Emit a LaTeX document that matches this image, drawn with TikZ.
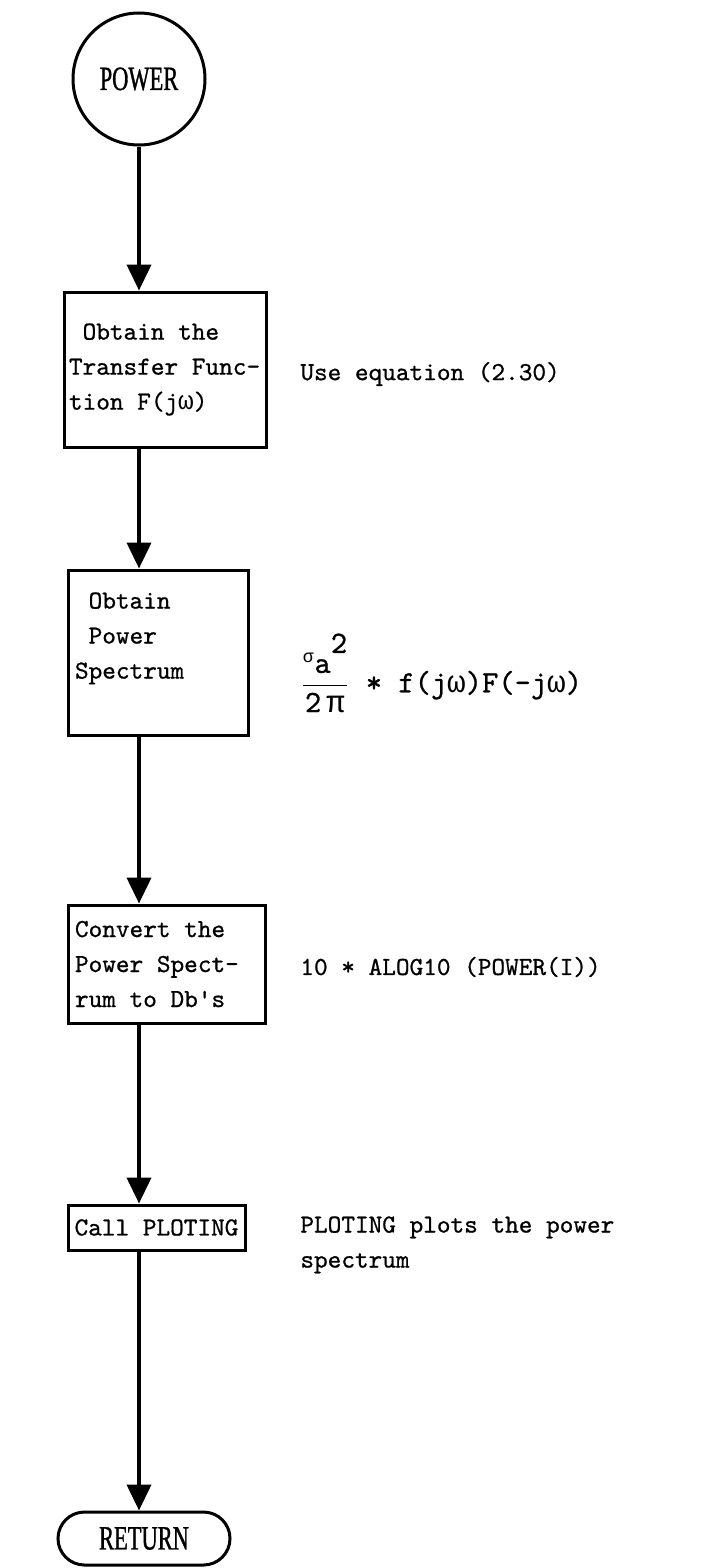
\documentclass[tikz,border=0pt]{standalone}
\usepackage{fontspec}
\usepackage{amsmath}
\newfontfamily\condserif[FakeStretch=0.66,FakeBold=1]{Liberation Serif}
\newfontfamily\tmono[FakeBold=0.8]{lmmono10-regular.otf}
\newfontfamily\gmono{Liberation Mono}
\newcommand{\om}{{\gmono ω}}
\newcommand{\fixsp}{\spaceskip=0pt\xspaceskip=0pt\relax}
\usetikzlibrary{arrows.meta,shapes.misc}
\begin{document}
\begin{tikzpicture}[x=0.5pt,y=-0.5pt,
  box/.style={draw,line width=1.5pt,rectangle,inner ysep=0pt,
    font=\fontsize{13}{17.5}\selectfont\tmono},
  term/.style={draw,line width=1.5pt,inner sep=0pt,
    font=\fontsize{17}{20}\selectfont\condserif},
  arr/.style={line width=2pt,-{Triangle[length=13pt,width=12pt]}},
  note/.style={anchor=west,inner sep=0pt,align=left,
    font=\fontsize{13}{17.5}\selectfont\tmono}]
\useasboundingbox (0,0) rectangle (706,1568);

\node[term,circle,minimum size=66pt] (power) at (139,79) {POWER};

\node[box,inner xsep=2.5pt,text width=96pt,minimum height=77.5pt,align=left] (b1) at (165,369.5)
  {\fixsp~Obtain the\\Transfer Func-\\tion F(j\om)};
\node[box,inner xsep=3.5pt,text width=83pt,minimum height=82.5pt,align=left] (b2) at (158,652.5)
  {\fixsp~Obtain\\~Power\\Spectrum\rule[-17pt]{0pt}{0pt}};
\node[box,inner xsep=3.5pt,text width=91.5pt,minimum height=59pt,align=left] (b3) at (166.5,964)
  {\fixsp Convert the\\Power Spect-\\rum to Db's};
\node[box,inner xsep=0pt,minimum width=88.5pt,minimum height=22.5pt] (b4) at (156.5,1227.5)
  {Call PLOTING};
\node[term,rounded rectangle,minimum width=86pt,minimum height=26.5pt] (ret) at (144,1538.5)
  {RETURN};

\draw[arr] (power.south) -- (power.south |- b1.north);
\draw[arr] (b1.south -| power) -- (b2.north -| power);
\draw[arr] (b2.south -| power) -- (b3.north -| power);
\draw[arr] (b3.south -| power) -- (b4.north -| power);
\draw[arr] (b4.south -| power) -- (ret.north -| power);

\node[note] (n1) at (300,374) {Use equation (2.30)};
\node[note,font=\fontsize{15.5}{18}\selectfont\tmono] (n2) at (300,673)
  {$\dfrac{{}^{\mbox{\fontsize{9}{9}\selectfont\gmono σ}}\mbox{a\raisebox{10pt}{2}}}{\mbox{2\,{\gmono π}}}$ * f(j\om)F(-j\om)};
\node[note] (n3) at (300,967) {10 * ALOG10 (POWER(I))};
\node[note,anchor=north west] (n4) at (300,1216) {PLOTING plots the power\\spectrum};
\end{tikzpicture}
\end{document}
